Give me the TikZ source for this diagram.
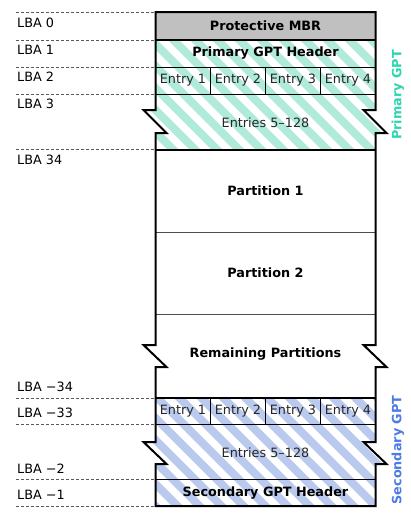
\documentclass[tikz,border=0pt]{standalone}
\usepackage{fontspec}
\setmainfont{DejaVu Sans}
\usepackage{tikz}
\definecolor{prifill}{RGB}{176,234,218}
\definecolor{pritext}{RGB}{46,214,176}
\definecolor{secfill}{RGB}{186,202,238}
\definecolor{sectext}{RGB}{76,123,230}
\definecolor{mbrgrey}{RGB}{192,192,192}
\tikzset{
  lba/.style={font=\fontsize{12.8}{14}\selectfont, inner sep=0pt, anchor=base west},
  lbaline/.style={dash pattern=on 3.3pt off 1.7pt, line width=1pt, black!65},
  boxtitle/.style={font=\bfseries\fontsize{12.8}{14}\selectfont, inner sep=0pt},
  boxtext/.style={font=\fontsize{12.8}{14}\selectfont, inner sep=0pt, black!85},
  outline/.style={line width=2pt, line join=miter},
  divider/.style={line width=0.8pt},
  stripe/.style={line width=7.8pt},
}
\begin{document}
\begin{tikzpicture}[x=1pt, y=-1pt]
  \fill[white] (0,0) rectangle (411,515);
  \useasboundingbox (0,0) rectangle (411,515);
  % protective MBR
  \fill[mbrgrey] (155.5,12) rectangle (375.5,40);
  % primary GPT hatching
  \begin{scope}
    \clip (155.5,40) -- (375.5,40) -- (375.5,110) -- ++(-12,0) -- ++(23,23) -- ++(-11,0)
      -- (375.5,150) -- (155.5,150) -- (155.5,133) -- ++(11,0) -- ++(-23,-23) -- ++(12,0) -- cycle;
    \foreach \k in {-25,...,10}
      \draw[stripe, prifill] ({155.5+22*\k},0) -- ++(560,560);
  \end{scope}
  % secondary GPT hatching
  \begin{scope}
    \clip (155.5,398) -- (375.5,398) -- (375.5,442) -- ++(-12,0) -- ++(23,22) -- ++(-11,0)
      -- (375.5,506) -- (155.5,506) -- (155.5,464) -- ++(11,0) -- ++(-23,-22) -- ++(12,0) -- cycle;
    \foreach \k in {-25,...,10}
      \draw[stripe, secfill] ({155.5+22*\k},0) -- ++(560,560);
  \end{scope}
  % thin dividers
  \foreach \y in {67,94,424,479.5}
    \draw[divider] (155.5,\y) -- (375.5,\y);
  \foreach \y in {232,314}
    \draw[divider, black!70] (155.5,\y) -- (375.5,\y);
  \foreach \x in {210.5,265.5,320.5} {
    \draw[divider] (\x,67) -- (\x,94);
    \draw[divider] (\x,398) -- (\x,424);
  }
  % thick dividers and outline
  \foreach \y in {40,150,398}
    \draw[outline] (155.5,\y) -- (375.5,\y);
  \draw[outline] (155.5,12) -- (375.5,12)
    -- (375.5,110) -- ++(-12,0) -- ++(23,23) -- ++(-11,0)
    -- (375.5,345) -- ++(-12,0) -- ++(23,22) -- ++(-11,0)
    -- (375.5,442) -- ++(-12,0) -- ++(23,22) -- ++(-11,0)
    -- (375.5,506) -- (155.5,506)
    -- (155.5,464) -- ++(11,0) -- ++(-23,-22) -- ++(12,0)
    -- (155.5,367) -- ++(11,0) -- ++(-23,-22) -- ++(12,0)
    -- (155.5,133) -- ++(11,0) -- ++(-23,-23) -- ++(12,0) -- cycle;
  % LBA markers
  \foreach \y/\txt [count=\i] in {12.7/LBA 0, 40/LBA 1, 67/LBA 2, 94/LBA 3, 149.5/LBA 34} {
    \draw[lbaline] (16,\y) -- (155.5,\y);
    \node[lba] (lba\i) at (17,\y+14.8) {\txt};
  }
  \foreach \y/\txt [count=\i] in {398/LBA −34, 424/LBA −33, 479.5/LBA −2, 506/LBA −1} {
    \draw[lbaline] (16,\y) -- (155.5,\y);
    \node[lba] (lbaneg\i) at (17,\y-6.3) {\txt};
  }
  % block labels
  \node[boxtitle] (mbr) at (265.5,26) {Protective MBR};
  \node[boxtitle] (prihdr) at (265.5,53.5) {Primary GPT Header};
  \node[boxtext] (priall) at (265.5,122.5) {Entries 5–128};
  \node[boxtitle] (part1) at (265.5,191) {Partition 1};
  \node[boxtitle] (part2) at (265.5,273) {Partition 2};
  \node[boxtitle] (rest) at (265.5,354) {Remaining Partitions};
  \node[boxtext] (secall) at (265.5,453) {Entries 5–128};
  \node[boxtitle] (sechdr) at (265.5,493) {Secondary GPT Header};
  \foreach \x [count=\i] in {183,238,293,348} {
    \node[boxtext] (prient\i) at (\x,80.5) {Entry \i};
    \node[boxtext] (secent\i) at (\x,411) {Entry \i};
  }
  % side labels
  \node[boxtitle, pritext, rotate=90] (prigpt) at (398,95) {Primary GPT};
  \node[boxtitle, sectext, rotate=90] (secgpt) at (398,450) {Secondary GPT};
\end{tikzpicture}
\end{document}
